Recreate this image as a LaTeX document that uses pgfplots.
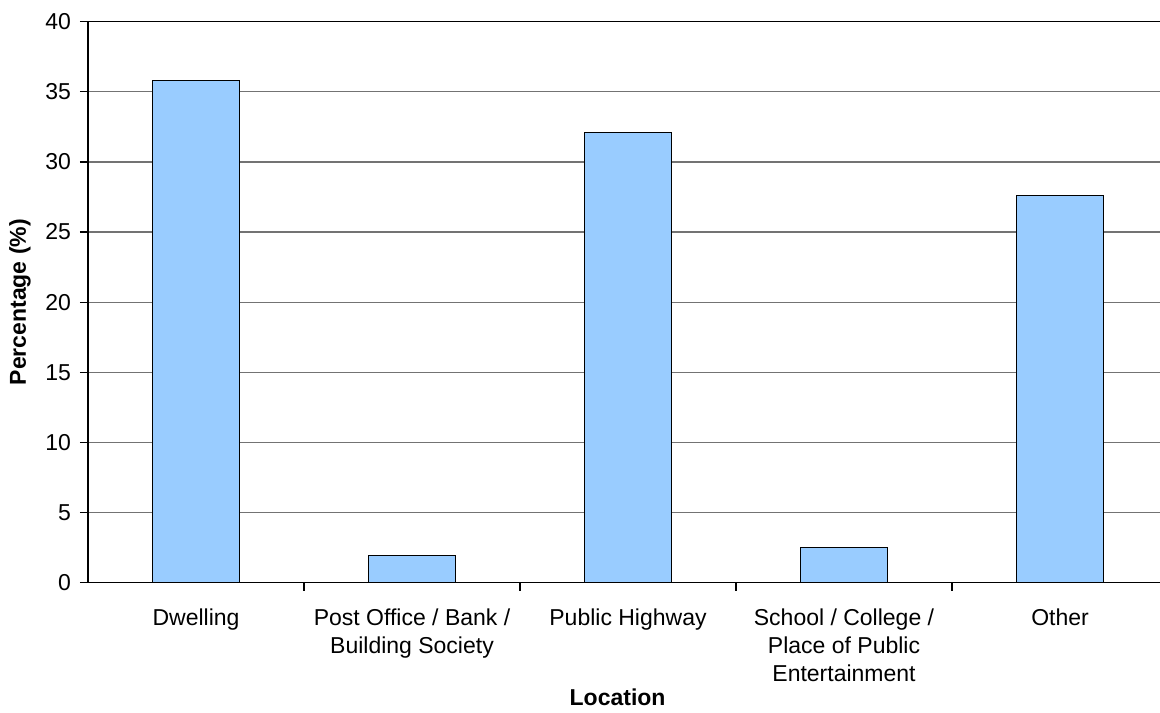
\documentclass[border=0pt]{standalone}
\usepackage{fontspec}
\setmainfont{Liberation Sans}
\usepackage{pgfplots}
\pgfplotsset{compat=1.18}
\definecolor{barblue}{HTML}{99CCFF}
\begin{document}
\begin{tikzpicture}
\begin{axis}[
  scale only axis,
  width=536pt, height=280.5pt,
  xmin=-0.5, xmax=4.463,
  ymin=0, ymax=40,
  ytick={0,5,...,40},
  xtick={0,1,2,3,4},
  xticklabels={Dwelling, Post Office / Bank /\\Building Society, Public Highway, School / College /\\Place of Public\\Entertainment, Other},
  minor xtick={0.5,1.5,2.5,3.5},
  major x tick style={draw=none},
  minor x tick style={draw=black, line width=0.6pt},
  major y tick style={draw=black, line width=0.6pt},
  tick align=outside,
  major tick length=4pt,
  minor tick length=4pt,
  axis x line*=bottom,
  axis y line*=left,
  axis line style={black, line width=0.6pt},
  ymajorgrids,
  grid style={draw=black!55, line width=0.6pt},
  /pgf/number format/assume math mode=true,
  tick label style={font=\fontsize{11.5}{14}\selectfont},
  xticklabel style={align=center, anchor=north, yshift=-5.5pt},
  yticklabel style={xshift=-1pt},
  xlabel={Location},
  ylabel={Percentage (\%)},
  every axis x label/.style={at={(axis description cs:0.494,-0.2037)}, anchor=center, font=\fontsize{11.5}{14}\selectfont\bfseries},
  every axis y label/.style={at={(axis description cs:-0.0634,0.5)}, rotate=90, anchor=center, font=\fontsize{11.5}{14}\selectfont\bfseries},
  ybar,
  bar width=0.4,
  clip=false,
]
\addplot[fill=barblue, draw=black, line width=0.6pt] coordinates {
  (0,35.8) (1,1.95) (2,32.1) (3,2.52) (4,27.6)
};
\draw[black, line width=0.6pt] (rel axis cs:0,1) -- (rel axis cs:1,1);
\end{axis}
\pgfresetboundingbox
\path[use as bounding box] (current axis.south west) ++(-44pt,-64.65pt) rectangle ++(580pt,356pt);
\end{tikzpicture}
\end{document}
